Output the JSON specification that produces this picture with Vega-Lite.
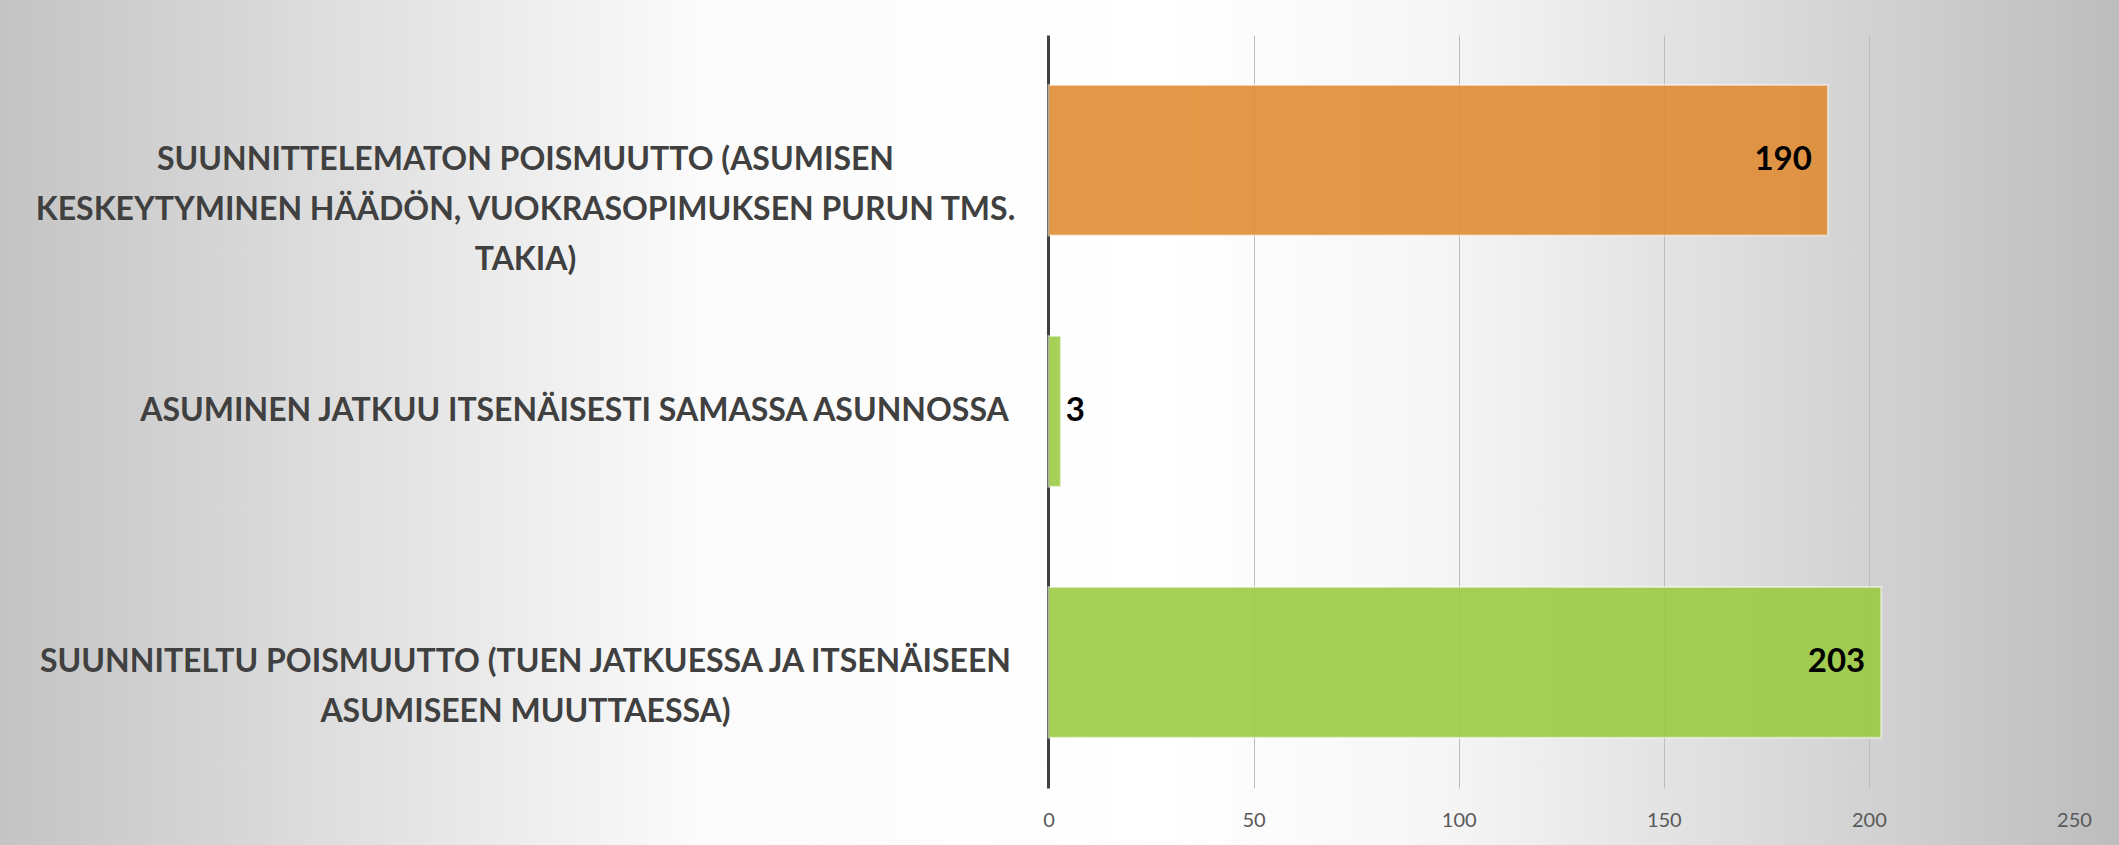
{
  "$schema": "https://vega.github.io/schema/vega-lite/v6.json",
  "width": 2119,
  "height": 845,
  "padding": 0,
  "autosize": {"type": "none"},
  "background": "#ffffff",
  "config": {
    "view": {
      "stroke": null,
      "fill": {
        "gradient": "linear",
        "x1": 0, "y1": 0.5, "x2": 1, "y2": 0.5,
        "stops": [
          {"offset": 0, "color": "#c4c4c4"},
          {"offset": 0.33, "color": "#fbfbfb"},
          {"offset": 0.55, "color": "#ffffff"},
          {"offset": 0.68, "color": "#f6f6f6"},
          {"offset": 1, "color": "#bdbdbd"}
        ]
      }
    }
  },
  "data": {
    "values": [
      {"category": "SUUNNITTELEMATON POISMUUTTO (ASUMISEN\nKESKEYTYMINEN HÄÄDÖN, VUOKRASOPIMUKSEN PURUN TMS.\nTAKIA)", "value": 190},
      {"category": "ASUMINEN JATKUU ITSENÄISESTI SAMASSA ASUNNOSSA", "value": 3},
      {"category": "SUUNNITELTU POISMUUTTO (TUEN JATKUESSA JA ITSENÄISEEN\nASUMISEEN MUUTTAESSA)", "value": 203}
    ]
  },
  "encoding": {
    "y": {
      "field": "category",
      "type": "nominal",
      "sort": null,
      "scale": {"paddingInner": 0.4, "paddingOuter": 0.383, "align": 0.442},
      "axis": {
        "title": null,
        "orient": "left",
        "offset": -1048.5,
        "domain": false,
        "ticks": false,
        "grid": false,
        "labelExpr": "split(datum.label, '\\n')",
        "labelAlign": "center",
        "labelBaseline": "middle",
        "labelPadding": {"condition": {"test": "indexof(datum.value, 'JATKUU ITSE') >= 0", "value": 474.5}, "value": 523.5},
        "labelFont": "Lato",
        "labelFontWeight": "bold",
        "labelFontSize": 32,
        "labelLineHeight": 50,
        "labelColor": "#404040",
        "labelLimit": 0
      }
    },
    "x": {
      "field": "value",
      "type": "quantitative",
      "scale": {"domain": [-255.6, 260.97], "nice": false, "zero": false},
      "axis": {
        "title": null,
        "orient": "bottom",
        "offset": -57,
        "values": [0, 50, 100, 150, 200, 250],
        "domain": false,
        "grid": false,
        "ticks": true,
        "tickSize": -753,
        "tickColor": {"condition": {"test": "datum.value === 0", "value": "#404040"}, "value": "#bdbdbd"},
        "tickWidth": {"condition": {"test": "datum.value === 0", "value": 3}, "value": 1},
        "labelFont": "Lato",
        "labelFontSize": 20,
        "labelColor": "#595959",
        "labelBaseline": "middle",
        "labelPadding": 785,
        "labelFlush": false
      }
    }
  },
  "layer": [
    {
      "mark": {"type": "bar", "opacity": 0.88, "stroke": "#ffffff", "strokeOpacity": 0.55, "strokeWidth": 2},
      "encoding": {
        "x2": {"datum": 0},
        "color": {
          "field": "category",
          "type": "nominal",
          "scale": {
            "domain": [
              "SUUNNITTELEMATON POISMUUTTO (ASUMISEN\nKESKEYTYMINEN HÄÄDÖN, VUOKRASOPIMUKSEN PURUN TMS.\nTAKIA)",
              "ASUMINEN JATKUU ITSENÄISESTI SAMASSA ASUNNOSSA",
              "SUUNNITELTU POISMUUTTO (TUEN JATKUESSA JA ITSENÄISEEN\nASUMISEEN MUUTTAESSA)"
            ],
            "range": ["#e08a30", "#9acb3f", "#9acb3f"]
          },
          "legend": null
        }
      }
    },
    {
      "transform": [{"filter": "datum.value >= 10"}],
      "mark": {"type": "text", "align": "right", "baseline": "middle", "dx": -16, "font": "Lato", "fontWeight": "bold", "fontSize": 33, "color": "#000000"},
      "encoding": {"text": {"field": "value", "type": "quantitative"}}
    },
    {
      "transform": [{"filter": "datum.value < 10"}],
      "mark": {"type": "text", "align": "left", "baseline": "middle", "dx": 5, "font": "Lato", "fontWeight": "bold", "fontSize": 33, "color": "#000000"},
      "encoding": {"text": {"field": "value", "type": "quantitative"}}
    }
  ]
}
